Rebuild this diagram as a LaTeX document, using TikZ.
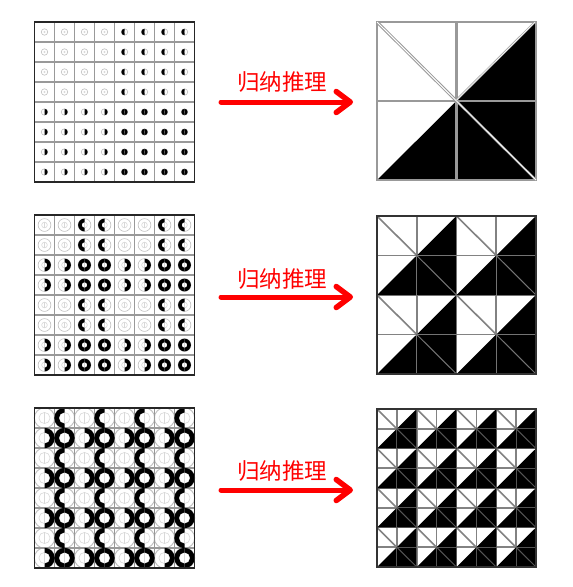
\documentclass[tikz,border=0pt]{standalone}
\usepackage{fontspec}
\usetikzlibrary{arrows.meta}
\newfontfamily\cjkfont{Noto Sans CJK SC}
\definecolor{gridgray}{gray}{0.6}
\definecolor{ringgray}{gray}{0.75}
\definecolor{lightgray2}{gray}{0.85}
\tikzset{
  grid line/.style={draw=gridgray,line width=1.4pt},
  frame line/.style={draw=black!85,line width=1.5pt},
  infer arrow/.style={draw=red,line width=5pt,line cap=round,-{Straight Barb[length=14pt,width=21pt,line width=5.5pt,round]}},
  infer label/.style={text=red,font=\cjkfont\fontsize{22.5}{24}\selectfont,inner sep=0pt},
  tile line/.style={draw=gridgray!85!black,line width=1.6pt}
}
% #1 top y, #2 outer radius, #3 inner radius, #4 period in cells, #5 grey ring width
\newcommand{\ringpanel}[5]{%
  \begin{scope}[shift={(34.5,#1)}]
    \fill[white] (0,0) rectangle (160,160);
    \foreach \i in {0,...,7}{\foreach \j in {0,...,7}{%
      \pgfmathsetmacro{\cx}{\i*20+10}%
      \pgfmathsetmacro{\cy}{\j*20+10}%
      \draw[ringgray,line width=#5] (\cx,\cy) circle (#2);
      \draw[lightgray2,line width=0.6pt] (\cx,\cy) circle (#3);
      \draw[lightgray2,line width=0.5pt] (\cx,\cy-#3) -- (\cx,\cy+#3);
    }}
    \foreach \x in {1,...,7}{\draw[grid line] (\x*20,0) -- (\x*20,160); \draw[grid line] (0,\x*20) -- (160,\x*20);}
    \foreach \i in {0,...,7}{\foreach \j in {0,...,7}{%
      \pgfmathsetmacro{\cx}{\i*20+10}%
      \pgfmathsetmacro{\cy}{\j*20+10}%
      \pgfmathtruncatemacro{\hl}{mod(\i,2*#4)>=#4 ? 1 : 0}%
      \pgfmathtruncatemacro{\hr}{mod(\j,2*#4)>=#4 ? 1 : 0}%
      \ifnum\hl=1
        \fill[black] (\cx,\cy-#2) arc[start angle=-90,end angle=-270,radius=#2] -- (\cx,\cy+#3) arc[start angle=-270,end angle=-90,radius=#3] -- cycle;
      \fi
      \ifnum\hr=1
        \fill[black] (\cx,\cy-#2) arc[start angle=-90,end angle=90,radius=#2] -- (\cx,\cy+#3) arc[start angle=90,end angle=-90,radius=#3] -- cycle;
      \fi
    }}
    \draw[frame line] (0,0) rectangle (160,160);
  \end{scope}}
% #1 top y, #2 tiles per side, #3 frame colour, #4 line colour over black
\newcommand{\tilepanel}[4]{%
  \begin{scope}[shift={(377,#1)}]
    \fill[white] (0,0) rectangle (159,158);
    \pgfmathsetmacro{\tw}{159/#2}%
    \pgfmathsetmacro{\th}{158/#2}%
    \foreach \i in {1,...,#2}{\foreach \j in {1,...,#2}{%
      \pgfmathsetmacro{\xa}{(\i-1)*\tw}\pgfmathsetmacro{\xb}{\i*\tw}\pgfmathsetmacro{\xm}{(\i-.5)*\tw}%
      \pgfmathsetmacro{\ya}{(\j-1)*\th}\pgfmathsetmacro{\yb}{\j*\th}\pgfmathsetmacro{\ym}{(\j-.5)*\th}%
      \draw[tile line] (\xa,\ya) -- (\xb,\yb);
      \draw[tile line] (\xm,\ya) -- (\xm,\yb);
      \draw[tile line] (\xa,\ym) -- (\xb,\ym);
    }}
    \foreach \k in {1,...,#2}{%
      \draw[tile line] (\k*\tw,0) -- (\k*\tw,158);
      \draw[tile line] (0,\k*\th) -- (159,\k*\th);
    }
    \foreach \i in {1,...,#2}{\foreach \j in {1,...,#2}{%
      \pgfmathsetmacro{\xa}{(\i-1)*\tw}\pgfmathsetmacro{\xb}{\i*\tw}\pgfmathsetmacro{\xm}{(\i-.5)*\tw}%
      \pgfmathsetmacro{\ya}{(\j-1)*\th}\pgfmathsetmacro{\yb}{\j*\th}\pgfmathsetmacro{\ym}{(\j-.5)*\th}%
      \fill[black] (\xa,\yb) -- (\xb,\ya) -- (\xb,\yb) -- cycle;
      \draw[draw=#4,line width=1pt] (\xm,\ym) -- (\xb,\yb);
      \draw[draw=#4,line width=1pt] (\xm,\ym) -- (\xm,\yb);
      \draw[draw=#4,line width=1pt] (\xm,\ym) -- (\xb,\ym);
      \draw[draw=#4,line width=.8pt] (\xb,\ya) -- (\xb,\yb);
      \draw[draw=#4,line width=.8pt] (\xa,\yb) -- (\xb,\yb);
    }}
    \draw[draw=#3,line width=1.8pt] (0,0) rectangle (159,158);
  \end{scope}}
\begin{document}
\begin{tikzpicture}[x=1pt,y=-1pt]
  \useasboundingbox (0,0) rectangle (573,587);
  \fill[white] (0,0) rectangle (573,587);
  \ringpanel{22}{3.2}{0.7}{4}{0.6pt}
  \ringpanel{215}{6.4}{2.8}{2}{0.6pt}
  \ringpanel{408}{10.2}{5.6}{1}{0.9pt}
  \tilepanel{22}{1}{gridgray}{gridgray}
  \tilepanel{216}{2}{black!80}{gridgray!75!black}
  \tilepanel{409}{4}{black!80}{gridgray!55!black}
  % first tile: heavier centre lines and doubled diagonals
  \begin{scope}[shift={(377,22)}]
    \draw[gridgray,line width=3pt] (79.5,0) -- (79.5,158);
    \draw[gridgray,line width=1.8pt] (0,79) -- (159,79);
    \draw[gridgray,line width=3pt] (0,0) -- (79.5,79);
    \draw[white,line width=1pt] (0,0) -- (79.5,79);
    \draw[gridgray,line width=2.2pt] (79.5,79) -- (159,158);
    \draw[white,line width=.8pt] (79.5,79) -- (159,158);
    \draw[gridgray,line width=2pt] (79.5,78) -- (158,0);
    \draw[white,line width=.7pt] (79.5,78) -- (158,0);
  \end{scope}
  \node[infer label] (t1) at (282,82) {归纳推理};
  \node[infer label] (t2) at (282,279) {归纳推理};
  \node[infer label] (t3) at (282,471) {归纳推理};
  \coordinate (a1) at (221,102); \coordinate (b1) at (353,102);
  \coordinate (a2) at (221,297); \coordinate (b2) at (353,297);
  \coordinate (a3) at (221,490); \coordinate (b3) at (353,490);
  \draw[infer arrow] (a1) -- (b1);
  \draw[infer arrow] (a2) -- (b2);
  \draw[infer arrow] (a3) -- (b3);
\end{tikzpicture}
\end{document}
